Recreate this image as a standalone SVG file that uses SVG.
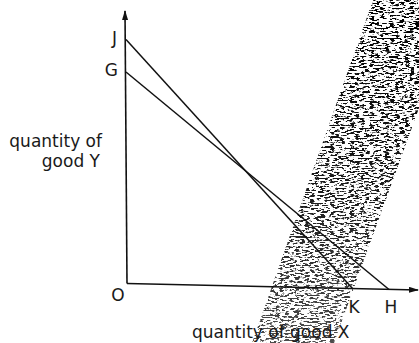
<svg xmlns="http://www.w3.org/2000/svg" width="419" height="343" viewBox="0 0 419 343">
<style>
  .lbl { font-family: "DejaVu Sans", "Liberation Sans", sans-serif; font-size: 17px; fill: #1a1a1a; }
  .ax { stroke: #111; stroke-width: 1.6; fill: none; }
  .ln { stroke: #111; stroke-width: 1.5; fill: none; }
</style>
<defs>
  <marker id="arr" viewBox="0 0 10 6" refX="9" refY="3" markerWidth="10" markerHeight="6" markerUnits="userSpaceOnUse" orient="auto">
    <path d="M0,0 L10,3 L0,6 Z" fill="#111"/>
  </marker>
  <filter id="grain" x="0" y="0" width="1" height="1" color-interpolation-filters="sRGB">
    <feTurbulence type="fractalNoise" baseFrequency="0.2 0.6" numOctaves="4" seed="11" result="noise"/>
    <feColorMatrix in="noise" type="matrix" values="0 0 0 0 0  0 0 0 0 0  0 0 0 0 0  -12 0 0 0 5.9" result="spots"/>
    <feComposite in="spots" in2="SourceGraphic" operator="in"/>
  </filter>
  <linearGradient id="fade" x1="0" y1="0" x2="0" y2="1">
    <stop offset="0" stop-color="#000" stop-opacity="1"/>
    <stop offset="0.55" stop-color="#000" stop-opacity="0.9"/>
    <stop offset="1" stop-color="#000" stop-opacity="0.7"/>
  </linearGradient>
</defs>
<rect width="419" height="343" fill="#fff"/>
<g id="shaded-band">
  <polygon points="373,0 458,0 334,343 252,343" fill="url(#fade)" filter="url(#grain)"/>
</g>
<g id="connectors">
  <line id="y-axis" class="ax" x1="127" y1="283.5" x2="125" y2="11" marker-end="url(#arr)"/>
  <line id="x-axis" class="ax" x1="127" y1="283.5" x2="418" y2="290" marker-end="url(#arr)"/>
  <line id="line-JK" class="ln" x1="126" y1="39.5" x2="353" y2="289"/>
  <line id="line-GH" class="ln" x1="126" y1="72" x2="389" y2="289.5"/>
</g>
<g id="label-J"><text class="lbl" x="117" y="44" text-anchor="end">J</text></g>
<g id="label-G"><text class="lbl" x="118" y="76" text-anchor="end">G</text></g>
<g id="label-O"><text class="lbl" x="118" y="301" text-anchor="middle">O</text></g>
<g id="label-K"><text class="lbl" x="354" y="313" text-anchor="middle">K</text></g>
<g id="label-H"><text class="lbl" x="391" y="313" text-anchor="middle">H</text></g>
<g id="label-y-axis">
  <text class="lbl" x="102" y="147" text-anchor="end">quantity of</text>
  <text class="lbl" x="100" y="167" text-anchor="end">good Y</text>
</g>
<g id="label-x-axis"><text class="lbl" x="192" y="338">quantity of good X</text></g>
</svg>
